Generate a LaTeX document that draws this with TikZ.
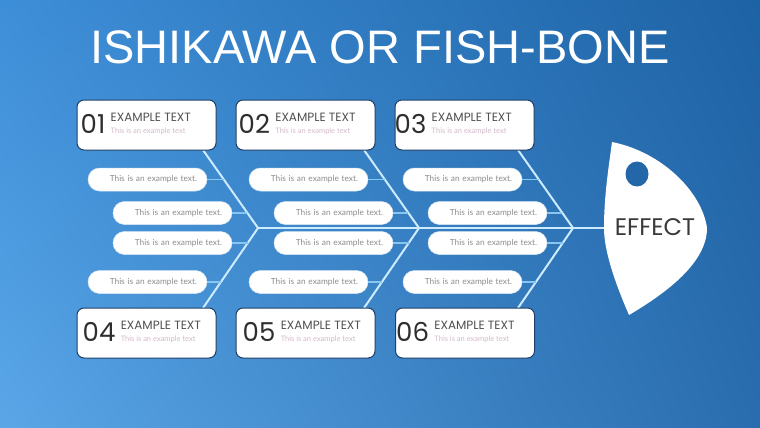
\documentclass[tikz,border=0pt]{standalone}
\usepackage{fontspec}
\setmainfont{Liberation Sans}
\newfontfamily\popfont{Poppins}
\newfontfamily\latofont{Lato}
\usetikzlibrary{positioning,shadings}
\definecolor{bgTL}{HTML}{3D8ED8}
\definecolor{bgTR}{HTML}{1D62A4}
\definecolor{bgBL}{HTML}{5AA6E7}
\definecolor{bgBR}{HTML}{2A6DAE}
\definecolor{boxline}{HTML}{1F3F66}
\definecolor{pillline}{HTML}{D8E6F2}
\definecolor{pilltext}{HTML}{8C8C8C}
\definecolor{subtext}{HTML}{D3B9CB}
\definecolor{headtext}{HTML}{505050}
\definecolor{numtext}{HTML}{2E2E2E}
\definecolor{boneline}{HTML}{CDEBFF}
\definecolor{stubline}{HTML}{88C6F2}
\definecolor{eyecol}{HTML}{2467A9}
\definecolor{effecttext}{HTML}{3A3A3A}
\begin{document}
\begin{tikzpicture}[x=1pt,y=-1pt,
    cause/.style={draw=boxline, line width=1pt, fill=white, rounded corners=7pt, minimum width=139pt, minimum height=50pt, inner sep=0pt},
    pill/.style={draw=pillline, line width=0.5pt, fill=white, rounded corners=11.5pt, minimum height=23pt, text width=99pt, inner xsep=10pt, inner ysep=0pt, align=right, font=\latofont\fontsize{8.3}{9}\selectfont, text=pilltext},
    bone/.style={draw=boneline, line width=2pt},
    stub/.style={draw=stubline, line width=1.5pt},
    num/.style={anchor=west, inner sep=0pt, font=\popfont\fontsize{26}{26}\selectfont, text=numtext},
    head/.style={inner sep=0pt, font=\popfont\fontsize{12}{12}\selectfont, text=headtext},
    sub/.style={anchor=west, inner sep=0pt, font=\latofont\fontsize{7.5}{8}\selectfont, text=subtext}]
  \useasboundingbox (0,0) rectangle (760,428);
  % background
  \shade[upper left=bgTL, upper right=bgTR, lower left=bgBL, lower right=bgBR] (0,0) rectangle (760,428);
  % title
  \node[text=white, font=\fontsize{47}{50}\selectfont] (title) at (380,47) {ISHIKAWA OR FISH-BONE};
  % spine and bones
  \coordinate (hd) at (604,228);
  \foreach \v [count=\n] in {258,419,573} {
    \coordinate (v\n) at (\v,228);
    \coordinate (t\n) at (\v-55,150);
    \coordinate (u\n) at (\v-55,308);
  }
  \draw[bone] (v1) -- (hd);
  \foreach \n in {1,2,3} {
    \draw[bone] (t\n) -- (v\n) -- (u\n);
  }
  % pills and stubs
  \foreach \v [count=\n] in {258,419,573} {
    \foreach \dx/\y/\sx [count=\m] in {110.5/179.5/34.2, 85.5/213/10.6, 85.5/243/10.3, 110.5/282/37.1} {
      \coordinate (s\n\m) at (\v-\sx,\y);
      \node[pill] (p\n\m) at (\v-\dx,\y) {This is an example text.};
      \draw[stub] (p\n\m.east) -- (s\n\m);
    }
  }
  % cause boxes
  \foreach \k/\x/\y/\nx in {1/146.5/125/4, 2/305.5/125/3, 3/464.5/125/0, 4/146.5/333/6, 5/305.5/333/7, 6/465/333/1} {
    \node[cause] (b\k) at (\x,\y) {};
    \node[num] (n\k) at ([xshift=\nx pt, yshift=1.5pt]b\k.west) {0\k};
    \node[head, right=5pt of n\k, yshift=6pt] (h\k) {EXAMPLE TEXT};
    \node[sub] (d\k) at ([yshift=-14pt]h\k.west) {This is an example text};
  }
  % fish head
  \fill[white] (612,142) .. controls (662,152) and (702,192) .. (707,228)
    .. controls (707,262) and (668,292) .. (629,315)
    .. controls (616,285) and (604,252) .. (hd)
    .. controls (604,195) and (609,165) .. (612,142) -- cycle;
  \fill[eyecol] (637,174) circle [x radius=11.5pt, y radius=12.5pt];
  \node[font=\popfont\fontsize{24}{24}\selectfont, text=effecttext] (effect) at (655,227) {EFFECT};
\end{tikzpicture}
\end{document}
